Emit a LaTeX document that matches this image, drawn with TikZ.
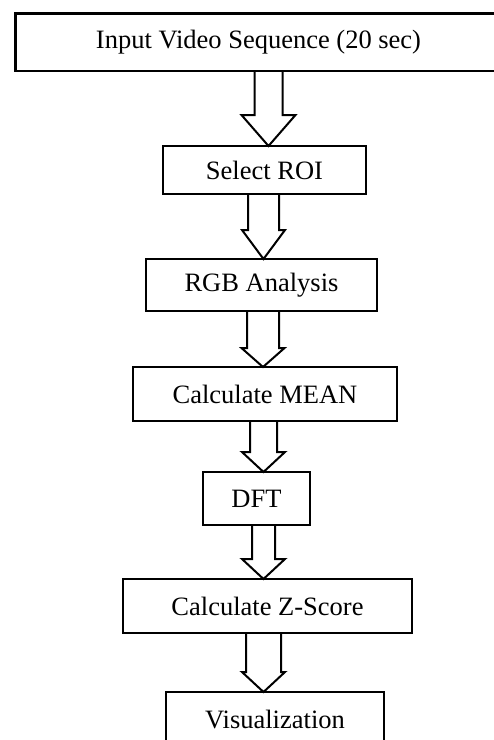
\documentclass[tikz,border=0pt]{standalone}
\usepackage{fontspec}
\setmainfont{Liberation Serif}
\usetikzlibrary{calc}

\tikzset{
  stage/.style={draw, line width=2.1pt, outer sep=0pt, inner sep=0pt,
    font=\fontsize{26.5}{30}\selectfont},
  blockarrow/.style={draw, line width=2pt, line join=miter}
}

% Hollow block arrow from the bottom of one stage to the top of the next.
% #1 from, #2 to, #3 centre x, #4 shaft half width, #5 head half width, #6 head height
\newcommand\flowarrow[6]{%
  \draw[blockarrow] let \p1=(#1.south), \p2=(#2.north) in
    (#3pt-#4pt,\y1) -- (#3pt-#4pt,\y2+#6pt) -- (#3pt-#5pt,\y2+#6pt) -- (#3pt,\y2)
    -- (#3pt+#5pt,\y2+#6pt) -- (#3pt+#4pt,\y2+#6pt) -- (#3pt+#4pt,\y1);}

\begin{document}
\begin{tikzpicture}[x=1pt,y=-1pt]
\useasboundingbox (0,0) rectangle (494,740);
\clip (0,0) rectangle (494,740);

\node[stage, minimum width=486pt, minimum height=57.5pt] (input) at (258.5,42.25) {Input Video Sequence (20 sec)};
\node[stage, minimum width=203pt, minimum height=48pt] (roi) at (264.5,170) {Select ROI};
\node[stage, minimum width=231pt, minimum height=52pt] (rgb) at (261.5,285) {RGB Analysis};
\node[stage, minimum width=264pt, minimum height=54pt] (mean) at (265,394) {Calculate MEAN};
\node[stage, minimum width=107pt, minimum height=53pt] (dft) at (256.5,498.5) {DFT};
\node[stage, minimum width=289pt, minimum height=54pt] (zscore) at (267.5,606) {Calculate Z-Score};
\node[stage, minimum width=218pt, minimum height=54pt] (vis) at (275,719) {Visualization};

\flowarrow{input}{roi}{268.5}{14}{27}{31}
\flowarrow{roi}{rgb}{263.5}{15.5}{21.5}{29}
\flowarrow{rgb}{mean}{263}{16}{21.5}{19}
\flowarrow{mean}{dft}{263.5}{13.5}{21.5}{20}
\flowarrow{dft}{zscore}{263.5}{11.5}{21.5}{20}
\flowarrow{zscore}{vis}{263.5}{17.5}{21.5}{20}
\end{tikzpicture}
\end{document}
